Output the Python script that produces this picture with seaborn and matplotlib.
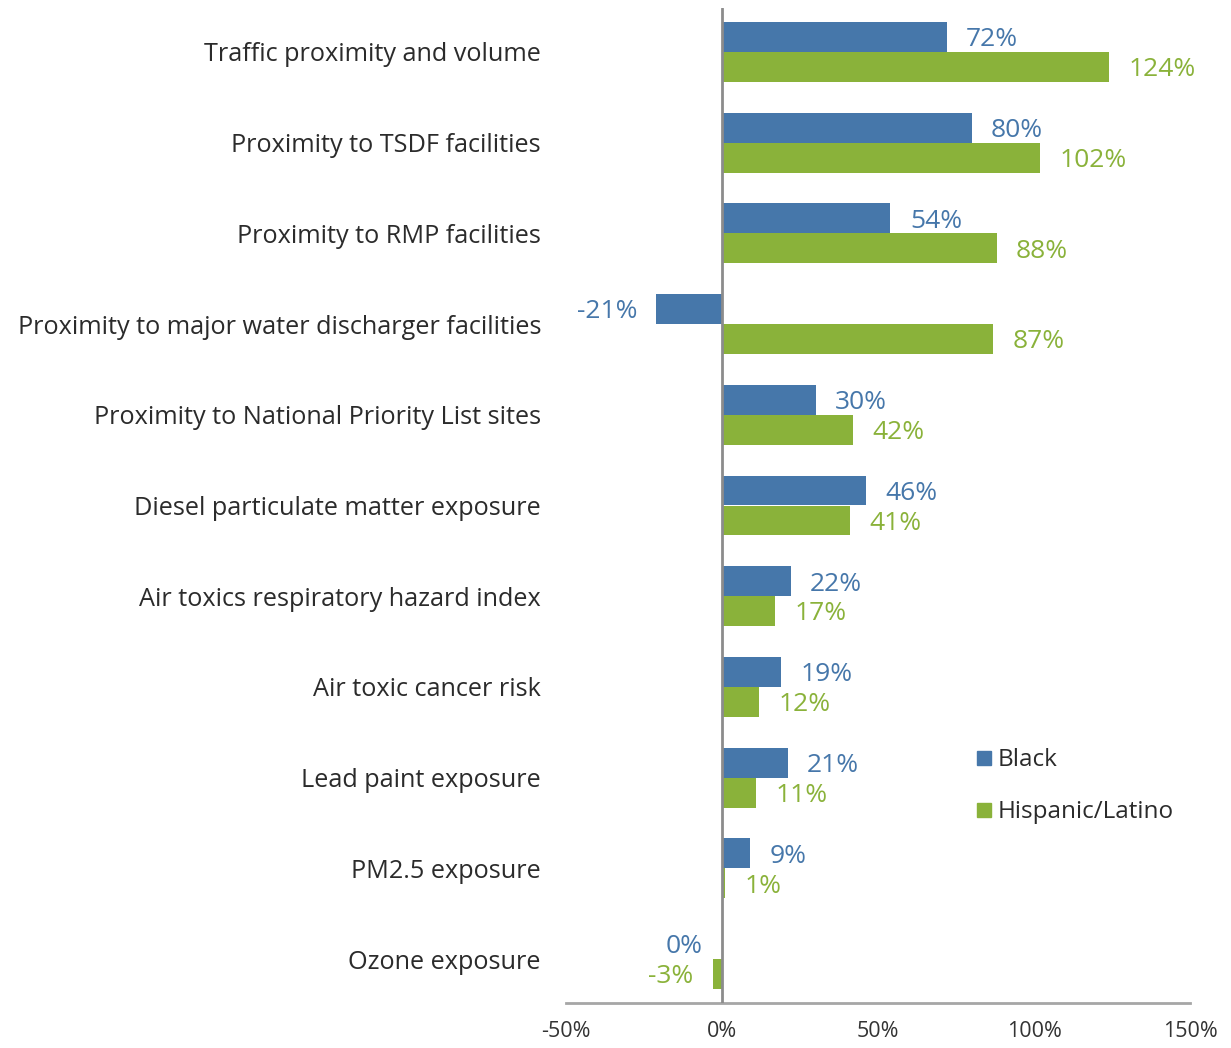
import matplotlib
matplotlib.use("Agg")
import matplotlib.pyplot as plt
from matplotlib.lines import Line2D
import seaborn as sns
import pandas as pd

categories = [
    "Traffic proximity and volume",
    "Proximity to TSDF facilities",
    "Proximity to RMP facilities",
    "Proximity to major water discharger facilities",
    "Proximity to National Priority List sites",
    "Diesel particulate matter exposure",
    "Air toxics respiratory hazard index",
    "Air toxic cancer risk",
    "Lead paint exposure",
    "PM2.5 exposure",
    "Ozone exposure",
]
black = [72, 80, 54, -21, 30, 46, 22, 19, 21, 9, 0]
hispanic = [124, 102, 88, 87, 42, 41, 17, 12, 11, 1, -3]
groups = ["Black", "Hispanic/Latino"]
colors = ["#4677AA", "#8AB23A"]
xticks = [-50, 0, 50, 100, 150]

df = pd.DataFrame({
    "category": categories * 2,
    "value": black + hispanic,
    "group": [groups[0]] * len(categories) + [groups[1]] * len(categories),
})

sns.set_theme(style="white")
plt.rcParams["font.family"] = ["Open Sans", "DejaVu Sans"]

fig = plt.figure(figsize=(12.31, 10.48), dpi=100)
ax = fig.add_axes([566 / 1231, 1 - 1003 / 1048, 624 / 1231, 995 / 1048])

sns.barplot(data=df, y="category", x="value", hue="group", order=categories,
            hue_order=groups, palette=colors, orient="h", width=0.66,
            saturation=1, linewidth=0, ax=ax, legend=False)

ax.set_xlim(-50, 150)
ax.set_ylim(len(categories) - 0.515, -0.485)
ax.set_xticks(xticks)
ax.set_xticklabels([f"{t}%" for t in xticks], fontsize=15.5, color="#333333")
ax.tick_params(axis="x", length=0, pad=13)
ax.tick_params(axis="y", length=0, pad=18, labelsize=18.2, labelcolor="#2b2b2b")
ax.set_xlabel("")
ax.set_ylabel("")
for s in ["top", "right", "left"]:
    ax.spines[s].set_visible(False)
ax.spines["bottom"].set_color("#A6A6A6")
ax.spines["bottom"].set_linewidth(2)
ax.axvline(0, color="#8C8C8C", lw=2, zorder=3)

for cont, col in zip(ax.containers, colors):
    for patch in cont:
        x0 = patch.get_x()
        endx = x0 + patch.get_width()
        value = endx if abs(endx) > abs(x0) else x0
        yc = patch.get_y() + patch.get_height() / 2
        if value > 0:
            ax.annotate(f"{value:.0f}%", (value, yc), xytext=(14, -2),
                        textcoords="offset points", ha="left", va="center",
                        fontsize=19, color=col)
        else:
            ax.annotate(f"{value:.0f}%", (value, yc), xytext=(-14, -2),
                        textcoords="offset points", ha="right", va="center",
                        fontsize=19, color=col)

handles = [Line2D([], [], marker="s", linestyle="", color=c, markersize=10) for c in colors]
ax.legend(handles, groups, loc="center left", bbox_to_anchor=(0.616, 0.218),
          frameon=False, fontsize=17.5, handletextpad=0.05, labelspacing=1.15,
          handlelength=1.0, labelcolor="#2b2b2b")

fig.savefig("out.png", dpi=100)
